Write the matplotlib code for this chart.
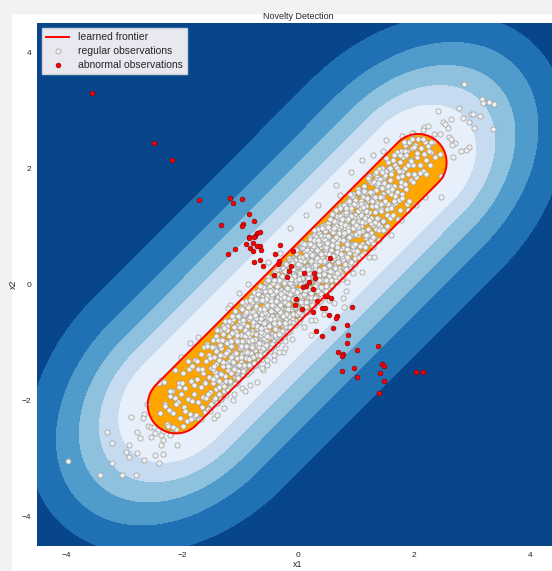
import numpy as np
import matplotlib.pyplot as plt
from matplotlib.lines import Line2D
from matplotlib.patches import Rectangle

plt.rcParams['font.family'] = ['Liberation Sans', 'DejaVu Sans']

# learned decision regions, in coordinates along / across the diagonal
# (half length of the straight part, radius along the diagonal, radius across it)
frontier_shape = (2.95, 0.49, 0.49)
band_half_len = [2.9, 2.85, 2.8, 2.75, 2.67]
band_along = [1.15, 1.6, 2.05, 2.55, 3.12]
band_across = [0.88, 1.15, 1.45, 1.80, 2.30]
across_offset = 0.02

# regular observations
regular_pts = [
    (-2.38, -2.21), (-2.33, -2.52), (-2.29, -2.05), (-2.26, -2.40), (-2.23, -2.16), (-2.21, -1.92),
    (-2.19, -2.55), (-2.17, -1.83), (-2.15, -2.21), (-2.12, -1.95), (-2.10, -2.48), (-2.07, -2.02),
    (-2.05, -1.70), (-2.03, -2.30), (-2.01, -1.88),
    (-1.99, -2.44), (-1.98, -1.52), (-1.96, -2.10), (-1.94, -1.78), (-1.92, -2.35), (-1.90, -1.97),
    (-1.88, -1.45), (-1.86, -2.22), (-1.85, -1.66), (-1.83, -2.01), (-1.82, -1.41), (-1.80, -2.28),
    (-1.79, -1.88), (-1.78, -1.30), (-1.76, -2.25), (-1.75, -1.62), (-1.73, -2.02), (-1.72, -1.45),
    (-1.70, -2.30), (-1.68, -1.77), (-1.67, -1.20), (-1.65, -2.11), (-1.64, -1.52), (-1.63, -1.93),
    (-1.62, -1.08), (-1.61, -2.20), (-1.60, -1.68),
    (-1.59, -1.32), (-1.58, -1.95), (-1.57, -1.02), (-1.55, -2.15), (-1.54, -1.60), (-1.53, -1.21),
    (-1.51, -1.85), (-1.50, -1.44), (-1.49, -2.08), (-1.47, -0.95), (-1.46, -1.70), (-1.45, -1.25),
    (-1.44, -1.98), (-1.43, -1.50), (-1.42, -0.88), (-1.41, -1.79), (-1.40, -2.04), (-1.40, -1.12),
    (-1.41, -1.36),
    (-1.39, -1.62), (-1.38, -0.96), (-1.37, -1.88), (-1.36, -1.30), (-1.35, -0.78), (-1.34, -1.53),
    (-1.33, -1.97), (-1.32, -1.10), (-1.31, -1.71), (-1.30, -1.41), (-1.29, -0.85), (-1.28, -1.84),
    (-1.27, -1.22), (-1.26, -1.58), (-1.25, -0.99), (-1.24, -1.90), (-1.23, -1.35), (-1.22, -0.72),
    (-1.22, -1.66), (-1.21, -1.14), (-1.20, -1.47), (-1.23, -1.79), (-1.26, -0.63),
    (-1.19, -0.88), (-1.18, -1.77), (-1.17, -1.30), (-1.16, -0.65), (-1.15, -1.52), (-1.14, -1.05),
    (-1.13, -1.72), (-1.12, -0.82), (-1.11, -1.38), (-1.10, -0.55), (-1.09, -1.60), (-1.08, -1.16),
    (-1.07, -0.93), (-1.06, -1.70), (-1.05, -1.27), (-1.04, -0.70), (-1.03, -1.49), (-1.02, -0.98),
    (-1.01, -1.62), (-1.00, -1.10), (-1.18, -1.05), (-1.14, -1.42), (-1.09, -0.74), (-1.05, -1.55),
    (-1.02, -0.52), (-1.12, -1.22), (-1.07, -1.40),
    (-0.99, -0.40), (-0.98, -1.33), (-0.97, -0.85), (-0.96, -1.58), (-0.95, -1.10), (-0.94, -0.62),
    (-0.93, -1.45), (-0.92, -0.98), (-0.91, -0.33), (-0.90, -1.22), (-0.89, -0.75), (-0.88, -1.54),
    (-0.87, -1.05), (-0.86, -0.48), (-0.85, -1.36), (-0.84, -0.90), (-0.83, -1.20), (-0.82, -0.60),
    (-0.81, -1.47), (-0.80, -1.00), (-0.98, -0.70), (-0.95, -1.38), (-0.92, -0.55), (-0.89, -1.12),
    (-0.86, -0.80), (-0.84, -1.50), (-0.82, -0.35), (-0.97, -1.20), (-0.88, -0.95), (-0.81, -1.18),
    (-0.79, -0.52), (-0.78, -1.40), (-0.77, -0.95), (-0.76, -0.18), (-0.75, -1.12), (-0.74, -0.66),
    (-0.73, -1.35), (-0.72, -0.85), (-0.71, -0.30), (-0.70, -1.05), (-0.69, -0.58), (-0.68, -1.30),
    (-0.67, -0.78), (-0.66, -0.12), (-0.65, -1.20), (-0.64, -0.92), (-0.63, -0.45), (-0.62, -1.28),
    (-0.61, -0.70), (-0.60, -1.00), (-0.79, -0.80), (-0.77, -1.25), (-0.75, -0.40), (-0.73, -0.98),
    (-0.71, -1.22), (-0.69, -0.25), (-0.67, -1.05), (-0.65, -0.62), (-0.63, -1.15), (-0.61, -0.20),
    (-0.78, -0.60), (-0.72, -0.50), (-0.66, -0.88),
    (-0.59, -0.38), (-0.58, -1.20), (-0.57, -0.75), (-0.56, 0.05), (-0.55, -0.95), (-0.54, -0.50),
    (-0.53, -1.12), (-0.52, -0.22), (-0.51, -0.80), (-0.50, -1.05), (-0.49, -0.35), (-0.48, -0.62),
    (-0.47, 0.12), (-0.46, -1.10), (-0.45, -0.55), (-0.44, -0.85), (-0.43, -0.10), (-0.42, -0.98),
    (-0.41, -0.45), (-0.40, -0.72), (-0.59, -0.92), (-0.57, -0.15), (-0.55, -0.62), (-0.53, -0.85),
    (-0.51, -0.05), (-0.49, -1.15), (-0.47, -0.42), (-0.45, -0.25), (-0.43, -0.68), (-0.41, -1.05),
    (-0.58, -0.55), (-0.54, -0.30), (-0.50, -0.70), (-0.46, -0.90), (-0.42, 0.20),
    (-0.39, -0.15), (-0.38, -0.90), (-0.37, -0.55), (-0.36, 0.18), (-0.35, -0.78), (-0.34, -0.30),
    (-0.33, -0.98), (-0.32, -0.05), (-0.31, -0.62), (-0.30, -0.40), (-0.29, -0.88), (-0.28, 0.25),
    (-0.27, -0.20), (-0.26, -0.70), (-0.25, -0.48), (-0.24, 0.05), (-0.23, -0.85), (-0.22, -0.32),
    (-0.21, -0.60), (-0.20, 0.30), (-0.39, -0.68), (-0.37, -0.25), (-0.35, 0.02), (-0.33, -0.45),
    (-0.31, -0.82), (-0.29, -0.10), (-0.27, -0.55), (-0.25, -0.92), (-0.23, 0.15), (-0.21, -0.42),
    (-0.38, -0.40), (-0.34, -0.60), (-0.30, 0.10), (-0.26, -0.30), (-0.22, -0.75), (-0.36, -1.00),
    (-0.19, 0.05), (-0.18, -0.72), (-0.17, -0.35), (-0.16, 0.40), (-0.15, -0.55), (-0.14, -0.12),
    (-0.13, -0.80), (-0.12, 0.20), (-0.11, -0.42), (-0.10, -0.20), (-0.09, -0.68), (-0.08, 0.45),
    (-0.07, 0.02), (-0.06, -0.50), (-0.05, -0.28), (-0.04, 0.25), (-0.03, -0.62), (-0.02, -0.10),
    (-0.01, -0.40), (0.00, 0.35), (-0.19, -0.48), (-0.17, -0.05), (-0.15, 0.22), (-0.13, -0.25),
    (-0.11, -0.60), (-0.09, 0.10), (-0.07, -0.38), (-0.05, -0.70), (-0.03, 0.30), (-0.01, -0.18),
    (-0.18, -0.25), (-0.14, 0.38), (-0.10, -0.05), (-0.06, -0.15), (-0.02, 0.12), (-0.16, -0.68),
    (-0.04, -0.50),
    (0.01, 0.30), (0.02, -0.45), (0.03, 0.05), (0.04, 0.62), (0.05, -0.25), (0.06, 0.18),
    (0.07, -0.52), (0.08, 0.40), (0.09, -0.10), (0.10, 0.72), (0.11, 0.02), (0.12, -0.38),
    (0.13, 0.50), (0.14, 0.15), (0.15, -0.22), (0.16, 0.65), (0.17, -0.45), (0.18, 0.28),
    (0.19, -0.05), (0.20, 0.55), (0.02, 0.15), (0.04, -0.20), (0.06, 0.45), (0.08, -0.35),
    (0.10, 0.25), (0.12, -0.15), (0.14, 0.60), (0.16, 0.00), (0.18, -0.30), (0.20, 0.35),
    (0.03, -0.60), (0.07, 0.12), (0.11, 0.40), (0.15, 0.32), (0.19, 0.10), (0.05, 0.68),
    (0.13, -0.48),
    (0.21, 0.05), (0.22, 0.80), (0.23, -0.30), (0.24, 0.45), (0.25, 0.15), (0.26, -0.12),
    (0.27, 0.62), (0.28, -0.35), (0.29, 0.30), (0.30, 0.90), (0.31, 0.00), (0.32, 0.55),
    (0.33, -0.25), (0.34, 0.20), (0.35, 0.75), (0.36, -0.08), (0.37, 0.42), (0.38, -0.20),
    (0.39, 0.65), (0.40, 0.12), (0.21, 0.40), (0.23, 0.60), (0.25, -0.38), (0.27, 0.22),
    (0.29, -0.10), (0.31, 0.70), (0.33, 0.35), (0.35, -0.05), (0.37, 0.88), (0.39, 0.25),
    (0.22, -0.15), (0.26, 0.30), (0.30, 0.48), (0.34, -0.30), (0.38, 0.55), (0.28, 0.85),
    (0.41, 0.70), (0.42, -0.05), (0.43, 0.40), (0.44, 1.02), (0.45, 0.18), (0.46, -0.18),
    (0.47, 0.60), (0.48, 0.28), (0.49, 0.95), (0.50, 0.05), (0.51, 0.52), (0.52, -0.10),
    (0.53, 0.80), (0.54, 0.35), (0.55, 1.10), (0.56, 0.12), (0.57, 0.62), (0.58, -0.02),
    (0.59, 0.90), (0.60, 0.45), (0.41, 0.22), (0.43, 0.85), (0.45, -0.12), (0.47, 0.38),
    (0.49, 0.72), (0.51, 0.10), (0.53, 0.55), (0.55, -0.08), (0.57, 0.98), (0.59, 0.25),
    (0.42, 0.50), (0.46, 0.92), (0.50, 0.30), (0.54, 0.70), (0.58, 0.42),
    (0.61, 0.15), (0.62, 1.00), (0.63, 0.55), (0.64, 1.25), (0.65, 0.35), (0.66, 0.80),
    (0.67, 0.05), (0.68, 1.12), (0.69, 0.62), (0.70, 0.28), (0.71, 0.95), (0.72, 0.45),
    (0.73, 1.30), (0.74, 0.20), (0.75, 0.78), (0.76, 1.05), (0.77, 0.40), (0.78, 0.62),
    (0.79, 1.20), (0.80, 0.30), (0.61, 0.70), (0.63, 0.30), (0.65, 1.08), (0.67, 0.48),
    (0.69, 0.88), (0.71, 0.12), (0.73, 0.60), (0.75, 1.35), (0.77, 0.85), (0.79, 0.50),
    (0.62, 0.45), (0.68, 0.72), (0.74, 1.00),
    (0.81, 0.95), (0.82, 0.30), (0.83, 1.35), (0.84, 0.62), (0.85, 1.10), (0.86, 0.45),
    (0.87, 0.80), (0.88, 1.45), (0.89, 0.25), (0.90, 0.98), (0.91, 0.58), (0.92, 1.28),
    (0.93, 0.70), (0.94, 1.05), (0.95, 0.40), (0.96, 1.50), (0.97, 0.85), (0.98, 1.20),
    (0.99, 0.52), (1.00, 0.95), (0.82, 0.75), (0.84, 1.22), (0.86, 1.00), (0.88, 0.55),
    (0.90, 1.38), (0.92, 0.85), (0.94, 0.35), (0.96, 1.15), (0.98, 0.70), (0.85, 1.42),
    (1.01, 1.40), (1.02, 0.60), (1.03, 1.15), (1.04, 0.85), (1.05, 1.62), (1.06, 0.48),
    (1.07, 1.30), (1.08, 1.00), (1.09, 1.55), (1.10, 0.70), (1.11, 1.25), (1.12, 0.92),
    (1.13, 1.70), (1.14, 0.55), (1.15, 1.38), (1.16, 1.08), (1.17, 0.80), (1.18, 1.60),
    (1.19, 1.20), (1.20, 0.95), (1.03, 1.65), (1.06, 0.95), (1.09, 1.20), (1.12, 1.50),
    (1.15, 0.65), (1.18, 1.35), (1.05, 1.10),
    (1.21, 1.45), (1.22, 0.75), (1.23, 1.80), (1.24, 1.10), (1.25, 1.60), (1.26, 0.88),
    (1.27, 1.35), (1.28, 1.75), (1.29, 1.02), (1.30, 1.50), (1.31, 0.82), (1.32, 1.90),
    (1.33, 1.25), (1.34, 1.62), (1.35, 0.95), (1.36, 1.40), (1.37, 1.85), (1.38, 1.15),
    (1.39, 1.70), (1.40, 1.30), (1.22, 1.25), (1.28, 1.55), (1.34, 1.05),
    (1.41, 1.00), (1.42, 1.75), (1.43, 1.30), (1.45, 2.00), (1.46, 1.55), (1.47, 1.10),
    (1.49, 1.85), (1.50, 1.40), (1.51, 1.95), (1.53, 1.20), (1.54, 1.65), (1.55, 2.10),
    (1.56, 1.38), (1.58, 1.80), (1.59, 1.15), (1.60, 1.55), (1.44, 1.50), (1.52, 1.70),
    (1.57, 2.00),
    (1.61, 1.95), (1.62, 1.35), (1.64, 2.15), (1.65, 1.70), (1.67, 1.40), (1.68, 2.05),
    (1.70, 1.60), (1.71, 2.25), (1.73, 1.85), (1.74, 1.45), (1.76, 2.10), (1.77, 1.70),
    (1.78, 2.30), (1.79, 1.95), (1.80, 1.55),
    (1.81, 2.20), (1.82, 1.75), (1.84, 2.40), (1.85, 2.00), (1.87, 1.65), (1.88, 2.30),
    (1.90, 1.90), (1.91, 2.45), (1.93, 2.15), (1.95, 1.80), (1.97, 2.35), (1.99, 2.05),
    (2.01, 2.40), (2.03, 1.85), (2.05, 2.20), (2.07, 2.50), (2.10, 2.05), (2.12, 2.35),
    (2.15, 1.95), (2.17, 2.25), (2.19, 2.45),
    (2.21, 2.15), (2.24, 2.38), (2.27, 2.05), (2.30, 2.28), (2.33, 2.45), (2.37, 2.20),
    # second pass over the dense core
    (-2.30, -2.09), (-2.25, -2.43), (-2.20, -1.84), (-2.15, -2.45), (-2.10, -2.05), (-2.05, -1.77),
    (-2.00, -1.69), (-1.95, -2.17), (-1.90, -1.32), (-1.85, -2.32), (-1.80, -1.73), (-1.75, -1.31),
    (-1.70, -2.31), (-1.65, -1.46), (-1.60, -1.69),
    (-1.57, -1.05), (-1.55, -1.88), (-1.52, -1.26), (-1.50, -2.05), (-1.47, -1.46), (-1.45, -1.07),
    (-1.42, -1.57), (-1.40, -0.77), (-1.37, -1.77), (-1.35, -1.04), (-1.32, -1.54), (-1.30, -0.72),
    (-1.27, -1.74), (-1.25, -1.18), (-1.22, -0.78), (-1.20, -1.81), (-1.17, -0.98), (-1.15, -1.24),
    (-1.12, -0.60), (-1.10, -1.43), (-1.07, -0.81), (-1.05, -1.60), (-1.02, -1.01), (-1.00, -0.62),
    (-0.99, -0.87), (-0.98, -1.41), (-0.97, -0.42), (-0.96, -1.04), (-0.95, -0.66), (-0.94, -1.56),
    (-0.93, -0.53), (-0.92, -1.17), (-0.91, -0.88), (-0.90, -0.29), (-0.89, -1.26), (-0.88, -0.71),
    (-0.87, -1.39), (-0.86, -0.39), (-0.85, -0.98), (-0.84, -0.60), (-0.83, -1.41), (-0.82, -0.47),
    (-0.81, -0.83), (-0.80, -0.30), (-0.79, -1.09), (-0.78, -0.69), (-0.77, -1.24), (-0.76, -0.13),
    (-0.75, -0.94), (-0.74, -0.42), (-0.73, -1.39), (-0.72, -0.58), (-0.71, -0.27), (-0.70, -1.04),
    (-0.69, -0.11), (-0.68, -0.73), (-0.67, -0.46), (-0.66, -1.21), (-0.65, -0.27), (-0.64, -0.87),
    (-0.63, -0.57), (-0.62, -0.50), (-0.61, -1.04), (-0.60, -0.05), (-0.59, -0.67), (-0.58, -0.29),
    (-0.57, -1.19), (-0.56, -0.16), (-0.55, -0.80), (-0.54, -0.51), (-0.53, 0.08), (-0.52, -0.89),
    (-0.51, -0.34), (-0.50, -1.02), (-0.49, -0.02), (-0.48, -0.61), (-0.47, -0.23), (-0.46, -1.04),
    (-0.45, -0.10), (-0.44, -0.46), (-0.43, 0.07), (-0.42, -0.72), (-0.41, -0.32), (-0.40, -0.87),
    (-0.39, 0.24), (-0.38, -0.57), (-0.37, -0.05), (-0.36, -1.02), (-0.35, -0.21), (-0.34, 0.10),
    (-0.33, -0.67), (-0.32, 0.26), (-0.31, -0.36), (-0.30, -0.09), (-0.29, -0.84), (-0.28, 0.10),
    (-0.27, -0.50), (-0.26, -0.20), (-0.25, -0.13), (-0.24, -0.67), (-0.23, 0.32), (-0.22, -0.30),
    (-0.21, 0.08), (-0.20, -0.82), (-0.19, 0.21), (-0.18, -0.43), (-0.17, -0.14), (-0.16, 0.45),
    (-0.15, -0.52), (-0.14, 0.03), (-0.13, -0.65), (-0.12, 0.35), (-0.11, -0.24), (-0.10, 0.14),
    (-0.09, -0.67), (-0.08, 0.27), (-0.07, -0.09), (-0.06, 0.44), (-0.05, -0.35), (-0.04, 0.05),
    (-0.03, -0.50), (-0.02, 0.61), (-0.01, -0.20), (0.00, 0.32), (0.01, -0.65), (0.02, 0.16),
    (0.03, 0.47), (0.04, -0.30), (0.05, 0.63), (0.06, 0.01), (0.07, 0.28), (0.08, -0.47),
    (0.09, 0.47), (0.10, -0.13), (0.11, 0.17), (0.12, 0.24), (0.13, -0.30), (0.14, 0.69),
    (0.15, 0.07), (0.16, 0.45), (0.17, -0.45), (0.18, 0.58), (0.19, -0.06), (0.20, 0.23),
    (0.21, 0.82), (0.22, -0.15), (0.23, 0.40), (0.24, -0.28), (0.25, 0.72), (0.26, 0.13),
    (0.27, 0.51), (0.28, -0.30), (0.29, 0.64), (0.30, 0.28), (0.31, 0.81), (0.32, 0.02),
    (0.33, 0.42), (0.34, -0.13), (0.35, 0.98), (0.36, 0.17), (0.37, 0.69), (0.38, -0.28),
    (0.39, 0.53), (0.40, 0.84), (0.41, 0.07), (0.42, 1.00), (0.43, 0.38), (0.44, 0.65),
    (0.45, -0.10), (0.46, 0.84), (0.47, 0.24), (0.48, 0.54), (0.49, 0.61), (0.50, 0.07),
    (0.51, 1.06), (0.52, 0.44), (0.53, 0.82), (0.54, -0.08), (0.55, 0.95), (0.56, 0.31),
    (0.57, 0.60), (0.58, 1.19), (0.59, 0.22), (0.60, 0.77), (0.61, 0.09), (0.62, 1.09),
    (0.63, 0.50), (0.64, 0.88), (0.65, 0.07), (0.66, 1.01), (0.67, 0.65), (0.68, 1.18),
    (0.69, 0.39), (0.70, 0.79), (0.71, 0.24), (0.72, 1.35), (0.73, 0.54), (0.74, 1.06),
    (0.75, 0.09), (0.76, 0.90), (0.77, 1.21), (0.78, 0.44), (0.79, 1.37), (0.80, 0.75),
    (0.81, 1.02), (0.82, 0.27), (0.83, 1.21), (0.84, 0.61), (0.85, 0.91), (0.86, 0.98),
    (0.87, 0.44), (0.88, 1.43), (0.89, 0.81), (0.90, 1.19), (0.91, 0.29), (0.92, 1.32),
    (0.93, 0.68), (0.94, 0.97), (0.95, 1.56), (0.96, 0.59), (0.97, 1.14), (0.98, 0.46),
    (0.99, 1.46),
    (1.00, 0.87), (1.03, 1.27), (1.05, 0.47), (1.08, 1.43), (1.10, 1.08), (1.13, 1.63),
    (1.15, 0.85), (1.18, 1.27), (1.20, 0.73), (1.23, 1.86), (1.25, 1.06), (1.28, 1.60),
    (1.30, 0.64), (1.33, 1.47), (1.35, 1.79), (1.38, 1.04), (1.40, 1.98), (1.43, 1.38),
    (1.45, 1.66), (1.48, 0.93), (1.50, 1.88), (1.53, 1.30), (1.55, 1.61), (1.58, 1.70),
    (1.60, 1.91), (1.65, 1.43), (1.70, 2.28), (1.75, 1.28), (1.80, 1.87), (1.85, 2.29),
    (1.90, 1.29), (1.95, 2.14), (2.00, 1.91), (2.05, 2.26), (2.10, 1.92), (2.15, 2.51),
    (2.20, 1.90), (2.25, 2.30), (2.30, 2.45),
    (-0.59, -0.86), (-0.57, -0.11), (-0.56, -1.07), (-0.54, -0.39), (-0.53, -0.20), (-0.51, -0.57),
    (-0.50, -0.90), (-0.48, 0.09), (-0.47, -0.45), (-0.45, -1.05), (-0.44, -0.17), (-0.42, -0.59),
    (-0.41, 0.08), (-0.39, -0.71), (-0.38, -0.28), (-0.36, 0.26), (-0.35, -0.80), (-0.33, -0.13),
    (-0.32, -0.44), (-0.30, 0.07), (-0.29, -0.86), (-0.27, -0.22), (-0.26, 0.28), (-0.24, -0.51),
    (-0.23, 0.23), (-0.21, -0.72), (-0.20, -0.05), (-0.18, 0.15), (-0.17, -0.23), (-0.15, -0.55),
    (-0.14, 0.43), (-0.12, -0.10), (-0.11, -0.71), (-0.09, 0.18), (-0.08, -0.25), (-0.06, 0.43),
    (-0.05, -0.37), (-0.03, 0.07), (-0.02, 0.60), (0.00, -0.45), (0.01, 0.21), (0.03, -0.09),
    (0.04, 0.41), (0.06, -0.51), (0.07, 0.12), (0.09, 0.63), (0.10, -0.17), (0.12, 0.58),
    (0.13, -0.38), (0.15, 0.30), (0.16, 0.49), (0.18, 0.12), (0.19, -0.21), (0.21, 0.78),
    (0.22, 0.24), (0.24, -0.36), (0.25, 0.52), (0.27, 0.10), (0.28, 0.77), (0.30, -0.02),
    (0.31, 0.41), (0.33, 0.95), (0.34, -0.11), (0.36, 0.56), (0.37, 0.25), (0.39, 0.76),
    (0.40, -0.17), (0.42, 0.47), (0.43, 0.97), (0.45, 0.18), (0.46, 0.92), (0.48, -0.03),
    (0.49, 0.64), (0.51, 0.84), (0.52, 0.46), (0.54, 0.14), (0.55, 1.12), (0.57, 0.59),
    (0.58, -0.02),
    # third pass
    (-1.49, -1.08), (-1.47, -1.63), (-1.45, -1.40), (-1.43, -1.96), (-1.41, -1.14), (-1.39, -0.79),
    (-1.37, -1.66), (-1.35, -1.22), (-1.33, -1.97), (-1.31, -0.95), (-1.29, -1.33), (-1.27, -0.75),
    (-1.25, -1.66), (-1.23, -1.01), (-1.21, -1.40), (-1.19, -0.62), (-1.17, -1.67), (-1.15, -1.06),
    (-1.13, -0.83), (-1.11, -1.46), (-1.09, -0.45), (-1.07, -1.18), (-1.05, -0.87), (-1.03, -1.61),
    (-1.01, -0.56), (-0.99, -1.25), (-0.97, -0.97), (-0.95, -0.61), (-0.93, -1.38), (-0.91, -0.50),
    (-0.89, -1.05), (-0.87, -0.82), (-0.85, -1.38), (-0.83, -0.56), (-0.81, -0.21), (-0.79, -1.08),
    (-0.77, -0.64), (-0.75, -1.39), (-0.73, -0.37), (-0.71, -0.75), (-0.69, -0.17), (-0.67, -1.08),
    (-0.65, -0.43), (-0.63, -0.82), (-0.61, -0.04), (-0.59, -1.09), (-0.57, -0.48), (-0.55, -0.25),
    (-0.53, -0.88), (-0.51, 0.13), (-0.49, -0.60), (-0.47, -0.29), (-0.45, -1.03), (-0.43, 0.02),
    (-0.41, -0.67), (-0.39, -0.39), (-0.37, -0.03), (-0.35, -0.80), (-0.33, 0.08), (-0.31, -0.47),
    (-0.29, -0.24), (-0.27, -0.80), (-0.25, 0.02), (-0.23, 0.37), (-0.21, -0.50), (-0.19, -0.06),
    (-0.17, -0.81), (-0.15, 0.21), (-0.13, -0.17), (-0.11, 0.41), (-0.09, -0.50), (-0.07, 0.15),
    (-0.05, -0.24), (-0.03, 0.54), (-0.01, -0.51), (0.01, 0.10), (0.03, 0.33), (0.05, -0.30),
    (0.07, 0.71), (0.09, -0.02), (0.11, 0.29), (0.13, -0.45), (0.15, 0.60), (0.17, -0.09),
    (0.19, 0.19), (0.21, 0.55), (0.23, -0.22), (0.25, 0.66), (0.27, 0.11), (0.29, 0.34),
    (0.31, -0.22), (0.33, 0.60), (0.35, 0.95), (0.37, 0.08), (0.39, 0.52), (0.41, -0.23),
    (0.43, 0.79), (0.45, 0.41), (0.47, 0.99), (0.49, 0.08), (0.51, 0.73), (0.53, 0.34),
    (0.55, 1.12), (0.57, 0.07), (0.59, 0.68), (0.61, 0.91), (0.63, 0.28), (0.65, 1.29),
    (0.67, 0.56), (0.69, 0.87), (0.71, 0.13), (0.73, 1.18), (0.75, 0.49), (0.77, 0.77),
    (0.79, 1.13), (0.81, 0.36), (0.83, 1.24), (0.85, 0.69), (0.87, 0.92), (0.89, 0.36),
    (0.91, 1.18), (0.93, 1.53), (0.95, 0.66), (0.97, 1.10), (0.99, 0.35), (1.01, 1.37),
    (1.03, 0.99), (1.05, 1.57), (1.07, 0.66), (1.09, 1.31), (1.11, 0.92), (1.13, 1.70),
    (1.15, 0.65), (1.17, 1.26), (1.19, 1.49), (1.21, 0.86), (1.23, 1.87), (1.25, 1.14),
    (1.27, 1.45), (1.29, 0.71), (1.31, 1.76), (1.33, 1.07), (1.35, 1.35), (1.37, 1.71),
    (1.39, 0.94), (1.41, 1.82), (1.43, 1.27), (1.45, 1.50), (1.47, 0.94), (1.49, 1.76),
    # fourth pass
    (-1.18, -1.66), (-1.16, -0.97), (-1.14, -0.54), (-1.12, -1.33), (-1.10, -0.73), (-1.08, -1.71),
    (-1.06, -0.98), (-1.04, -0.54), (-1.02, -1.38), (-1.00, -0.73), (-0.98, -1.05), (-0.96, -0.30),
    (-0.94, -1.48), (-0.92, -0.79), (-0.90, -0.48), (-0.88, -1.16), (-0.86, -0.83), (-0.84, -1.28),
    (-0.82, -0.26), (-0.80, -0.95), (-0.78, -0.47), (-0.76, -1.35), (-0.74, -0.52), (-0.72, -0.25),
    (-0.70, -0.72), (-0.68, -1.00), (-0.66, -0.02), (-0.64, -0.75), (-0.62, -0.26), (-0.60, -1.10),
    (-0.58, -0.42), (-0.56, -1.04), (-0.54, -0.35), (-0.52, 0.08), (-0.50, -0.71), (-0.48, -0.11),
    (-0.46, -1.09), (-0.44, -0.36), (-0.42, 0.08), (-0.40, -0.76), (-0.38, -0.11), (-0.36, -0.43),
    (-0.34, 0.32), (-0.32, -0.86), (-0.30, -0.17), (-0.28, 0.14), (-0.26, -0.54), (-0.24, -0.21),
    (-0.22, -0.66), (-0.20, 0.36), (-0.18, -0.33), (-0.16, 0.15), (-0.14, -0.73), (-0.12, 0.10),
    (-0.10, 0.37), (-0.08, -0.10), (-0.06, -0.38), (-0.04, 0.60), (-0.02, -0.13), (0.00, 0.36),
    (0.02, -0.48), (0.04, 0.20), (0.06, -0.42), (0.08, 0.27), (0.10, 0.70), (0.12, -0.09),
    (0.14, 0.51), (0.16, -0.47), (0.18, 0.26), (0.20, 0.70), (0.22, -0.14), (0.24, 0.51),
    (0.26, 0.19), (0.28, 0.94), (0.30, -0.24), (0.32, 0.45), (0.34, 0.76), (0.36, 0.08),
    (0.38, 0.41), (0.40, -0.04), (0.42, 0.98), (0.44, 0.29), (0.46, 0.77), (0.48, -0.11),
    (0.50, 0.72), (0.52, 0.99), (0.54, 0.52), (0.56, 0.24), (0.58, 1.22), (0.60, 0.49),
    (0.62, 0.98), (0.64, 0.14), (0.66, 0.82), (0.68, 0.20), (0.70, 0.89), (0.72, 1.32),
    (0.74, 0.53), (0.76, 1.13), (0.78, 0.15), (0.80, 0.88), (0.82, 1.32), (0.84, 0.48),
    (0.86, 1.13), (0.88, 0.81), (0.90, 1.56), (0.92, 0.38), (0.94, 1.07), (0.96, 1.38),
    (0.98, 0.70), (1.00, 1.03), (1.02, 0.58), (1.04, 1.60), (1.06, 0.91), (1.08, 1.39),
    (1.10, 0.51), (1.12, 1.34), (1.14, 1.61), (1.16, 1.14), (1.18, 0.86), (1.20, 1.84),
    (1.22, 1.11), (1.24, 1.60), (1.26, 0.76), (1.28, 1.44), (1.30, 0.82), (1.32, 1.51),
    (1.34, 1.94), (1.36, 1.15), (1.38, 1.75), (1.40, 0.77), (1.42, 1.50), (1.44, 1.94),
    (1.46, 1.10), (1.48, 1.75), (1.50, 1.43), (1.52, 2.18), (1.54, 1.00), (1.56, 1.69),
    (1.58, 2.00), (1.60, 1.32), (1.62, 1.65), (1.64, 1.20), (1.66, 2.22), (1.68, 1.53),
    (1.70, 2.01), (1.72, 1.13), (1.74, 1.96), (1.76, 2.23), (1.78, 1.76), (1.80, 1.48),
    (1.82, 2.46), (1.84, 1.73), (1.86, 2.22), (1.88, 1.38), (1.90, 2.06), (1.92, 1.44),
    (1.94, 2.13), (1.96, 2.50), (1.98, 1.77), (2.00, 2.37),
    # outside the frontier
    (2.87, 3.45), (3.18, 3.19), (3.19, 3.13), (3.30, 3.14), (3.38, 3.11), (2.78, 3.04),
    (2.41, 2.99), (2.98, 2.93), (3.02, 2.94), (3.14, 2.90), (2.84, 2.87), (2.63, 2.85),
    (2.50, 2.80), (2.53, 2.77), (2.95, 2.79), (3.37, 2.68), (3.03, 2.69), (2.58, 2.69),
    (2.18, 2.71), (2.15, 2.66), (2.24, 2.72), (2.35, 2.59), (2.45, 2.59), (1.98, 2.61),
    (1.96, 2.60), (1.80, 2.55), (2.60, 2.53), (2.63, 2.50), (2.71, 2.43), (2.65, 2.40),
    (2.95, 2.37), (2.89, 2.31), (2.81, 2.29), (2.68, 2.19), (2.45, 2.25), (1.47, 2.30),
    (2.46, 1.86), (2.47, 1.50), (2.19, 1.51),
    (-1.73, -0.91), (-1.87, -1.01), (-2.02, -1.25), (-2.12, -1.47), (-2.36, -1.64), (-2.31, -1.67),
    (-2.39, -1.70), (-2.60, -2.06), (-2.88, -2.28), (-2.66, -2.23), (-2.67, -2.30), (-2.58, -2.44),
    (-2.54, -2.46), (-2.49, -2.45), (-3.30, -2.53), (-2.78, -2.53), (-2.72, -2.64), (-2.54, -2.62),
    (-2.46, -2.55), (-2.37, -2.59), (-2.32, -2.68), (-2.08, -2.77), (-3.21, -2.73), (-2.92, -2.77),
    (-2.37, -2.77), (-2.20, -2.59), (-1.68, -2.31), (-1.45, -2.29), (-1.39, -2.25), (-1.51, -2.17),
    (-1.28, -2.13), (-1.40, -2.04), (-1.12, -1.99), (-0.96, -1.78), (-0.92, -1.83), (-1.10, -1.89),
    (-0.82, -1.73), (-0.70, -1.67), (-0.61, -1.47), (-0.53, -1.39), (-0.42, -1.30), (-0.26, -1.16),
    (-0.22, -0.98), (-0.10, -0.94), (-1.17, -0.35), (-1.21, -0.41),
    (-3.96, -3.03), (-3.41, -3.27), (-3.21, -3.08), (-3.04, -3.27), (-2.79, -3.27), (-2.92, -2.97),
    (-2.77, -2.90), (-2.97, -2.88), (-2.65, -3.02), (-2.46, -2.93), (-2.33, -2.91), (-2.40, -3.08),
    (1.11, 0.21), (1.22, 0.47), (0.82, -0.12), (0.77, -0.23), (0.79, -0.38), (0.62, -0.32),
    (0.53, -0.27), (0.45, -0.50), (0.30, -0.61), (0.22, -0.61), (0.10, -0.73), (0.22, -0.87),
    (-0.22, -1.10), (-0.33, -1.16), (-0.42, -1.21), (-0.53, -1.30), (-0.62, -1.44), (0.84, 0.05),
    (0.94, 0.19), (1.31, 0.47),
    (-0.51, 0.39), (-0.31, 0.55), (-0.87, 0.01), (-1.01, -0.15),
    (0.65, 1.71), (0.91, 1.94), (1.11, 2.14), (1.29, 2.23), (1.51, 2.49), (0.35, 1.37),
    (0.13, 1.20), (-0.13, 0.97), (0.73, 1.54), (1.77, 1.11), (2.03, 1.37), (1.60, 0.85),
]

# abnormal observations
abnormal_pts = [
    (-3.55, 3.30), (-2.48, 2.44), (-2.18, 2.14), (-1.70, 1.45), (-1.18, 1.49), (-1.12, 1.41),
    (-0.97, 1.47), (-0.84, 1.21), (-1.33, 1.02), (-0.94, 1.04), (-0.96, 1.00), (-0.76, 1.10),
    (-0.71, 0.89), (-0.65, 0.91), (-0.85, 0.81), (-0.84, 0.80), (-0.75, 0.83), (-0.76, 0.81),
    (-0.78, 0.71), (-0.90, 0.69), (-0.70, 0.66), (-0.66, 0.66), (-0.82, 0.62), (-0.77, 0.58),
    (-0.63, 0.60), (-1.08, 0.61), (-1.20, 0.52), (-0.31, 0.68), (-0.39, 0.52), (-0.65, 0.43),
    (-0.76, 0.38), (-0.61, 0.32), (-0.42, 0.16), (-0.33, 0.40), (-0.09, 0.58), (-0.35, 0.35),
    (-0.12, 0.32), (-0.15, 0.24), (-0.19, 0.13), (0.11, 0.19), (0.27, 0.19), (0.29, 0.12),
    (0.55, 0.45), (0.19, 0.04), (0.13, -0.03), (0.26, -0.07), (0.09, -0.05), (0.32, -0.28),
    (0.47, -0.20), (0.50, -0.19), (0.57, -0.24), (-0.04, -0.25), (-0.05, -0.36), (0.07, -0.42),
    (0.26, -0.48), (0.42, -0.40), (0.46, -0.41), (0.54, -0.52), (0.67, -0.55), (0.66, -0.58),
    (0.93, -0.39), (0.60, -0.74), (0.31, -0.80), (0.42, -0.88), (0.85, -0.70), (0.87, -0.87),
    (0.84, -1.01), (1.02, -1.13), (0.69, -1.16), (0.77, -1.20), (0.76, -1.23), (1.38, -1.06),
    (0.96, -1.43), (1.44, -1.37), (1.48, -1.41), (0.75, -1.48), (1.42, -1.52), (1.01, -1.59),
    (1.49, -1.66), (1.39, -1.86), (2.03, -1.50), (2.15, -1.51),
]

legend_labels = ['learned frontier', 'regular observations', 'abnormal observations']
axis_lim = (-4.5, 4.5)
ticks = [-4, -2, 0, 2, 4]

#==============================================================================
# decision regions on a grid
#==============================================================================
xx, yy = np.meshgrid(np.linspace(-4.6, 4.6, 700), np.linspace(-4.6, 4.6, 700))
along = (xx + yy) / np.sqrt(2)
across = (yy - xx) / np.sqrt(2) - across_offset


def region(half_len, r_along, r_across):
    excess = np.clip(np.abs(along) - half_len, 0, None)
    return np.sqrt((excess / r_along) ** 2 + (across / r_across) ** 2)


band_colors = plt.cm.Blues(np.linspace(1 / 12, 11 / 12, 6))  # light -> dark

fig = plt.figure(figsize=(5.52, 5.71), dpi=100, facecolor='white')
fig.patches.append(Rectangle((0, 0), 11 / 552, 1, transform=fig.transFigure,
                             color='#f2f2f2', zorder=-1))
fig.patches.append(Rectangle((0, 1 - 13 / 571), 1, 13 / 571, transform=fig.transFigure,
                             color='#f2f2f2', zorder=-1))
ax = fig.add_axes([37 / 552, 25 / 571, 522 / 552, 523 / 571])
ax.set_facecolor(band_colors[5])

for k in range(len(band_across) - 1, -1, -1):
    g = region(band_half_len[k], band_along[k], band_across[k])
    ax.contourf(xx, yy, g, levels=[0, 1], colors=[band_colors[k]])

g0 = region(*frontier_shape)
ax.contourf(xx, yy, g0, levels=[0, 1], colors=['orange'])
ax.contour(xx, yy, g0, levels=[1], colors='red', linewidths=1.4)

reg = np.array(regular_pts)
abn = np.array(abnormal_pts)
b1 = ax.scatter(reg[:, 0], reg[:, 1], s=14, c='#f0f0f0', edgecolors='#9a9a9a', linewidths=0.5)
c = ax.scatter(abn[:, 0], abn[:, 1], s=12, c='red', edgecolors='#7a0000', linewidths=0.4)

ax.set_xlim(axis_lim)
ax.set_ylim(axis_lim)
ax.set_xticks(ticks)
ax.set_yticks(ticks)
ax.tick_params(length=0, labelsize=6, labelcolor='0.15', pad=4)
for sp in ax.spines.values():
    sp.set_visible(False)
ax.set_title('Novelty Detection', fontsize=6.5, color='0.15', pad=3)
ax.set_xlabel('x1', fontsize=6.5, color='0.15', labelpad=1)
ax.set_ylabel('x2', fontsize=6.5, color='0.15', labelpad=3)

frontier_handle = Line2D([], [], color='red', lw=1.4)
leg = ax.legend([frontier_handle, b1, c], legend_labels, loc='upper left',
                fontsize=7.5, facecolor='#e8e8f0', edgecolor='#d0d0d8', framealpha=1,
                fancybox=False, borderaxespad=0.5, handlelength=2.2, labelspacing=0.35)
for t in leg.get_texts():
    t.set_color('0.15')

fig.savefig('out.png', dpi=100)
